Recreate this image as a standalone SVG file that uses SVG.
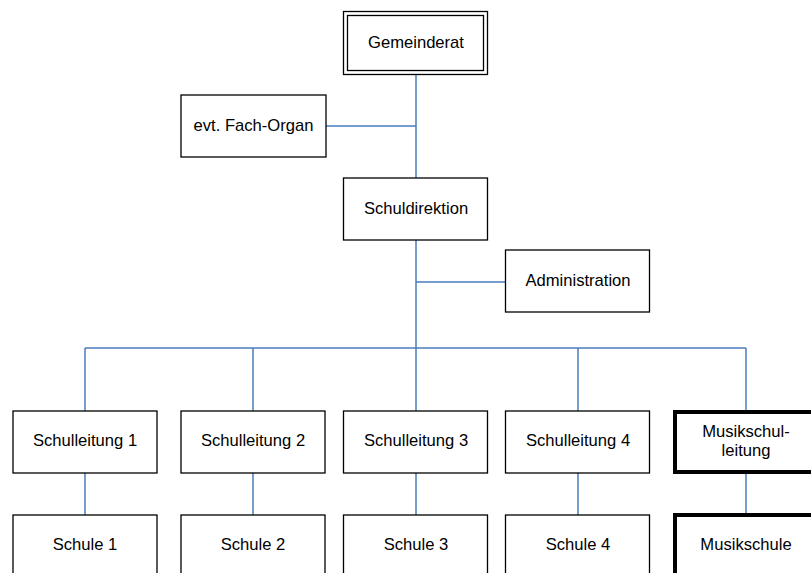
<svg xmlns="http://www.w3.org/2000/svg" width="811" height="573" viewBox="0 0 811 573">
<style>
.box{fill:#fff;stroke:#000;stroke-width:1.3}
.thick{fill:#fff;stroke:#000;stroke-width:4}
.lbl{font-family:"Liberation Sans",Arial,sans-serif;font-size:16.6px;fill:#000;text-anchor:middle;dominant-baseline:central}
.con{fill:none;stroke:#4a7ebb;stroke-width:1.5}
</style>
<rect width="811" height="573" fill="#fff"/>
<g id="connectors">
<path class="con" d="M416 74V178M326 126H416M416 240V411M416 282H505M85 348H746M85 348V411M253 348V411M578 348V411M746 348V412M85 473V515M253 473V515M416 473V515M578 473V515M746 474V515"/>
</g>
<g id="gemeinderat">
<rect x="343.5" y="11.5" width="144" height="63" fill="#fff" stroke="#000" stroke-width="1.3"/>
<rect x="347.5" y="15.5" width="136" height="55" fill="none" stroke="#000" stroke-width="1.3"/>
<text class="lbl" x="416" y="42">Gemeinderat</text>
</g>
<g id="fachorgan">
<rect class="box" x="181" y="95" width="145" height="62"/>
<text class="lbl" x="253.5" y="125">evt. Fach-Organ</text>
</g>
<g id="schuldirektion">
<rect class="box" x="343.5" y="178" width="144" height="62"/>
<text class="lbl" x="416" y="208">Schuldirektion</text>
</g>
<g id="administration">
<rect class="box" x="505.5" y="250" width="144" height="62"/>
<text class="lbl" x="578" y="280">Administration</text>
</g>
<g id="schulleitung1">
<rect class="box" x="13" y="411" width="144" height="62"/>
<text class="lbl" x="85" y="440">Schulleitung 1</text>
</g>
<g id="schulleitung2">
<rect class="box" x="181" y="411" width="144" height="62"/>
<text class="lbl" x="253" y="440">Schulleitung 2</text>
</g>
<g id="schulleitung3">
<rect class="box" x="343.5" y="411" width="144" height="62"/>
<text class="lbl" x="416" y="440">Schulleitung 3</text>
</g>
<g id="schulleitung4">
<rect class="box" x="505.5" y="411" width="144" height="62"/>
<text class="lbl" x="578" y="440">Schulleitung 4</text>
</g>
<g id="musikschulleitung">
<rect class="thick" x="675" y="412" width="146" height="60"/>
<text class="lbl" x="746" y="431">Musikschul-</text>
<text class="lbl" x="746" y="450">leitung</text>
</g>
<g id="schule1">
<rect class="box" x="13" y="515" width="144" height="62"/>
<text class="lbl" x="85" y="544">Schule 1</text>
</g>
<g id="schule2">
<rect class="box" x="181" y="515" width="144" height="62"/>
<text class="lbl" x="253" y="544">Schule 2</text>
</g>
<g id="schule3">
<rect class="box" x="343.5" y="515" width="144" height="62"/>
<text class="lbl" x="416" y="544">Schule 3</text>
</g>
<g id="schule4">
<rect class="box" x="505.5" y="515" width="144" height="62"/>
<text class="lbl" x="578" y="544">Schule 4</text>
</g>
<g id="musikschule">
<rect class="thick" x="675" y="515" width="146" height="62"/>
<text class="lbl" x="746" y="544">Musikschule</text>
</g>
</svg>
